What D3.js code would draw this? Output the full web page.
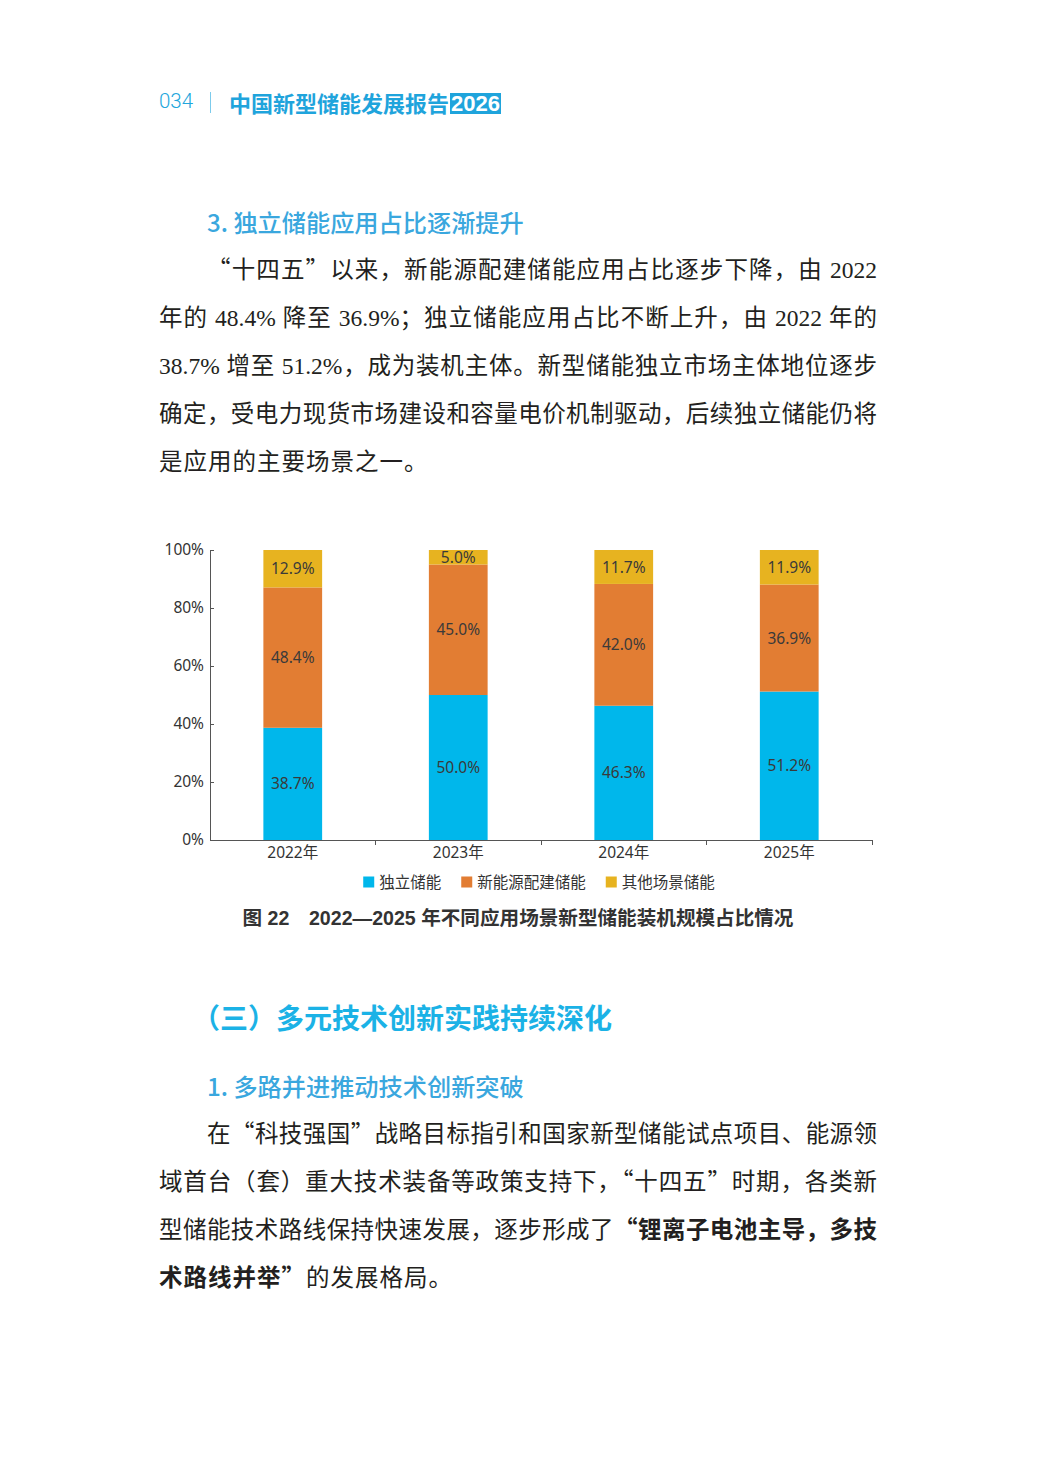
<!DOCTYPE html>
<html>
<head>
<meta charset="utf-8">
<script src="https://cdn.jsdelivr.net/npm/d3@7"></script>
<style>
  html, body { margin: 0; padding: 0; background: #fff; }
  #page { position: relative; width: 1049px; height: 1474px; overflow: hidden; }
  .abs { position: absolute; white-space: nowrap; }
  .head-num { left: 159px; top: 89px; line-height: 28px; font: 300 20.5px Roboto, "Noto Sans", sans-serif; color: #22a6dc; }
  .head-bar { left: 210px; top: 92px; width: 1px; height: 21px; background: #7ccbec; }
  .head-title { left: 229px; top: 86px; line-height: 28px; font: 700 22px "Noto Sans CJK SC", sans-serif; color: #1fa4dc; }
  .head-title span { display: inline-block; background: #1fa4dc; color: #fff; font: 700 22px "Liberation Sans", "Noto Sans CJK SC", sans-serif; line-height: 21px; padding: 0 1px; margin-left: 1px; vertical-align: 1px; }
  .h3 { font: 500 24.2px "Noto Sans CJK SC", sans-serif; color: #3aa7de; line-height: 32px; }
  .h2 { font: 700 28px "Noto Sans CJK SC", sans-serif; color: #1bb2e6; line-height: 40px; }
  .line { position: absolute; left: 159px; width: 718px; font: 400 23.5px "Liberation Serif", "Noto Sans CJK SC", serif; color: #231f20; line-height: 48px; text-align: justify; text-align-last: justify; }
  .line.first { left: 207px; width: 670px; }
  .line.last { text-align: left; text-align-last: left; letter-spacing: 1px; }
  .line b { font-weight: 700; }
  .q { font-family: "Noto Sans CJK SC", sans-serif; line-height: 0; }
  svg { position: absolute; left: 0; top: 0; }
</style>
</head>
<body>
<div id="page">
  <div class="abs head-num">034</div>
  <div class="abs head-bar"></div>
  <div class="abs head-title">中国新型储能发展报告<span>2026</span></div>

  <div class="abs h3" style="left:207px; top:206px;">3. 独立储能应用占比逐渐提升</div>
  <div class="line first" style="top:246px;"><span class="q">“</span>十四五<span class="q">”</span>以来，新能源配建储能应用占比逐步下降，由 2022</div>
  <div class="line" style="top:294px;">年的 48.4% 降至 36.9%；独立储能应用占比不断上升，由 2022 年的</div>
  <div class="line" style="top:342px;">38.7% 增至 51.2%，成为装机主体。新型储能独立市场主体地位逐步</div>
  <div class="line" style="top:390px;">确定，受电力现货市场建设和容量电价机制驱动，后续独立储能仍将</div>
  <div class="line last" style="top:438px;">是应用的主要场景之一。</div>

  <div class="abs h2" style="left:192px; top:997px;">（三）多元技术创新实践持续深化</div>
  <div class="abs h3" style="left:207px; top:1070px;">1. 多路并进推动技术创新突破</div>
  <div class="line first" style="top:1110px;">在<span class="q">“</span>科技强国<span class="q">”</span>战略目标指引和国家新型储能试点项目、能源领</div>
  <div class="line" style="top:1158px;">域首台（套）重大技术装备等政策支持下，<span class="q">“</span>十四五<span class="q">”</span>时期，各类新</div>
  <div class="line" style="top:1206px;">型储能技术路线保持快速发展，逐步形成了<b><span class="q">“</span>锂离子电池主导，多技</b></div>
  <div class="line last" style="top:1254px;"><b>术路线并举<span class="q">”</span></b>的发展格局。</div>

  <svg id="chart" width="1049" height="1474"></svg>
</div>
<script>
// chart data
const years = ['2022年', '2023年', '2024年', '2025年'];
const seriesNames = ['独立储能', '新能源配建储能', '其他场景储能'];
const independent = [38.7, 50.0, 46.3, 51.2];
const renewable = [48.4, 45.0, 42.0, 36.9];
const other = [12.9, 5.0, 11.7, 11.9];
const yTicks = [0, 20, 40, 60, 80, 100];
const colors = ['#00b7eb', '#e27d33', '#e7b320'];
const caption = '图 22\u30002022—2025 年不同应用场景新型储能装机规模占比情况';

const margin = {top: 550, left: 210};
const width = 662;
const height = 290;
const chartFont = '15.5px "Noto Sans", "Open Sans", "Noto Sans CJK SC", sans-serif';

const rows = years.map((y, i) => ({year: y, a: independent[i], b: renewable[i], c: other[i]}));
const keys = ['a', 'b', 'c'];
const stacked = d3.stack().keys(keys)(rows);

const svg = d3.select('#chart');
const g = svg.append('g').attr('transform', 'translate(' + margin.left + ',' + margin.top + ')');

const x = d3.scaleBand().domain(years).range([0, width]).paddingInner(0.645).paddingOuter(0.3225);
const y = d3.scaleLinear().domain([0, 100]).range([height, 0]);
const fmt = d3.format('.1f');

// bars
const layers = g.selectAll('.layer')
  .data(stacked)
  .enter()
  .append('g')
  .attr('class', 'layer')
  .attr('fill', (d, i) => colors[i]);

layers.selectAll('rect')
  .data(d => d)
  .enter()
  .append('rect')
  .attr('x', d => x(d.data.year))
  .attr('y', d => y(d[1]))
  .attr('width', x.bandwidth())
  .attr('height', d => y(d[0]) - y(d[1]));

// segment labels
layers.selectAll('text')
  .data(d => d.map(v => ({v: v, key: d.key})))
  .enter()
  .append('text')
  .attr('x', d => x(d.v.data.year) + x.bandwidth() / 2)
  .attr('y', d => (y(d.v[0]) + y(d.v[1])) / 2)
  .attr('dy', '0.36em')
  .attr('text-anchor', 'middle')
  .attr('fill', '#3a3a3a')
  .style('font', chartFont)
  .text(d => fmt(d.v.data[d.key]) + '%');

// y axis
const yAxis = d3.axisLeft(y)
  .tickValues(yTicks)
  .tickFormat(d => d + '%')
  .tickSizeInner(-4)
  .tickSizeOuter(-4)
  .tickPadding(6);

const ya = g.append('g').call(yAxis);

// x axis
const xAxis = d3.axisBottom(x).tickSize(0).tickPadding(7);
const xa = g.append('g').attr('transform', 'translate(0,' + height + ')').call(xAxis);

// boundary ticks between categories
xa.selectAll('.bound')
  .data(d3.range(1, years.length + 1))
  .enter()
  .append('line')
  .attr('class', 'bound')
  .attr('x1', i => i * x.step())
  .attr('x2', i => i * x.step())
  .attr('y1', 0)
  .attr('y2', 5)
  .attr('stroke', '#555');

[ya, xa].forEach(a => {
  a.selectAll('path, line').attr('stroke', '#555').attr('shape-rendering', 'crispEdges');
  a.selectAll('text')
    .attr('fill', '#333')
    .style('font', chartFont);
});

// legend
const legend = svg.append('g').attr('transform', 'translate(0,' + (margin.top + height + 42) + ')');
const items = legend.selectAll('g')
  .data(seriesNames)
  .enter()
  .append('g');

items.append('rect')
  .attr('width', 11)
  .attr('height', 11)
  .attr('y', -5.5)
  .attr('fill', (d, i) => colors[i]);

items.append('text')
  .attr('x', 16)
  .attr('dy', '0.36em')
  .attr('fill', '#333')
  .style('font', '15.5px "Noto Sans CJK SC", sans-serif')
  .text(d => d);

let offset = 0;
const gap = 20;
const widths = [];
items.each(function () { widths.push(this.getBBox().width); });
const total = d3.sum(widths) + gap * (widths.length - 1);
const start = margin.left + width / 2 - total / 2 - 2;
items.attr('transform', (d, i) => {
  const t = 'translate(' + (start + offset) + ',0)';
  offset += widths[i] + gap;
  return t;
});

// caption
svg.append('text')
  .attr('x', 518)
  .attr('y', margin.top + height + 78)
  .attr('dy', '0.36em')
  .attr('text-anchor', 'middle')
  .attr('fill', '#333')
  .style('font', '700 19.6px "Liberation Sans", "Noto Sans CJK SC", sans-serif')
  .text(caption);
</script>
</body>
</html>
